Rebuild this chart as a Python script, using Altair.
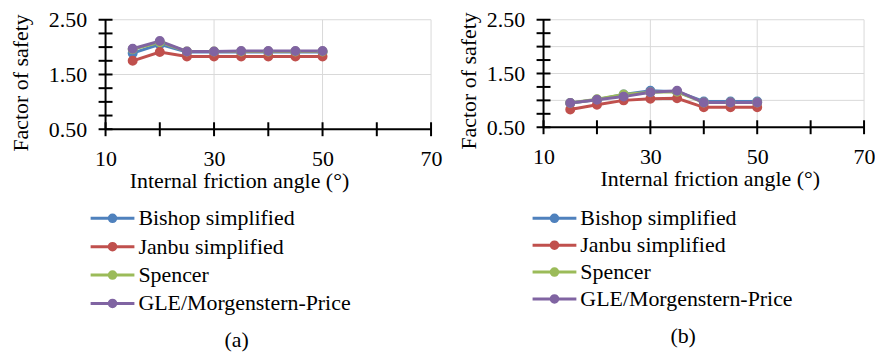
import altair as alt
import pandas as pd

angles = [15, 20, 25, 30, 35, 40, 45, 50]
methods = ["Bishop simplified", "Janbu simplified", "Spencer", "GLE/Morgenstern-Price"]
colors = ["#4F81BD", "#C0504D", "#9BBB59", "#8064A2"]

# panel (a)
a_bishop = [1.89, 2.05, 1.91, 1.91, 1.91, 1.91, 1.91, 1.91]
a_janbu = [1.75, 1.91, 1.83, 1.83, 1.83, 1.83, 1.83, 1.83]
a_spencer = [1.96, 2.09, 1.92, 1.92, 1.92, 1.92, 1.92, 1.92]
a_gle = [1.97, 2.11, 1.92, 1.92, 1.93, 1.93, 1.93, 1.93]

# panel (b)
b_bishop = [0.95, 1.01, 1.11, 1.18, 1.16, 0.98, 0.98, 0.98]
b_janbu = [0.83, 0.92, 1.00, 1.03, 1.04, 0.87, 0.87, 0.87]
b_spencer = [0.95, 1.02, 1.11, 1.15, 1.16, 0.96, 0.96, 0.96]
b_gle = [0.95, 1.01, 1.07, 1.15, 1.18, 0.96, 0.96, 0.96]

x_min, x_max = 10, 70
y_min, y_max = 0.5, 2.5
x_ticks = [10, 20, 30, 40, 50, 60, 70]
x_labels = [10, 30, 50, 70]
x_grid = [30, 50, 70]
y_ticks = [0.5, 0.75, 1.0, 1.25, 1.5, 1.75, 2.0, 2.25, 2.5]
a_y_labels = [0.5, 1.5, 2.5]
a_y_grid = [1.5, 2.5]
b_y_labels = [0.5, 1.0, 1.5, 2.0, 2.5]
b_y_grid = [1.0, 1.5, 2.0, 2.5]

FONT = "Liberation Serif"
FS = 22
GRID = "#d9d9d9"


def frame(series):
    rows = []
    for m, vals in zip(methods, series):
        for a, v in zip(angles, vals):
            rows.append({"angle": a, "fos": v, "method": m})
    return pd.DataFrame(rows)


SYMBOL = "M-2,0L2,0M-0.3,0A0.3,0.3 0 1,1 0.3,0A0.3,0.3 0 1,1 -0.3,0Z"


def panel(series, caption, w, h, y_labels, y_grid, ytitle_y, ytitle_pad, xtitle_x, leg_x, leg_row, cap_dx):
    df = frame(series)
    legend = alt.Legend(
        title=None, orient="none", legendX=leg_x, legendY=187,
        symbolType=SYMBOL, symbolSize=484, symbolStrokeWidth=3, symbolOpacity=1,
        labelFont=FONT, labelFontSize=FS, labelColor="black", labelOffset=13.5,
        rowPadding=leg_row, padding=0, labelLimit=400,
    )
    sc = alt.Scale(domain=methods, range=colors)
    xs = alt.Scale(domain=[x_min, x_max], nice=False)
    ys = alt.Scale(domain=[y_min, y_max], nice=False)
    xenc = alt.X(
        "angle:Q", scale=xs,
        axis=alt.Axis(
            values=x_labels, title="Internal friction angle (°)",
            grid=False, ticks=False, domain=False, labelFlush=False, labelOverlap=False,
            titleX=xtitle_x, labelPadding=19, titlePadding=2,
        ),
    )
    yenc = alt.Y(
        "fos:Q", scale=ys,
        axis=alt.Axis(
            values=y_labels, title="Factor of safety", format=".2f",
            grid=False, ticks=False, domain=False, labelFlush=False, labelOverlap=False,
            titleY=ytitle_y, labelPadding=19, titlePadding=ytitle_pad,
        ),
    )
    # vertical grid lines (filled thin rects)
    vgrid = alt.Chart(pd.DataFrame({"g": x_grid, "lo": [y_min] * len(x_grid), "hi": [y_max] * len(x_grid)})).mark_rect(
        color=GRID, xOffset=-0.5, x2Offset=0.5
    ).encode(x=alt.X("g:Q", scale=xs), x2="g:Q", y=alt.Y("lo:Q", scale=ys), y2="hi:Q")
    hgrid = alt.Chart(pd.DataFrame({"g": y_grid})).mark_rule(color=GRID, strokeWidth=1).encode(
        y=alt.Y("g:Q", scale=ys)
    )
    # axis lines
    xdomain = alt.Chart(pd.DataFrame({"d": [y_min]})).mark_rule(color="black", strokeWidth=2).encode(
        y=alt.Y("d:Q", scale=ys)
    )
    ydomain = alt.Chart(pd.DataFrame({"d": [x_min], "lo": [y_min], "hi": [y_max]})).mark_rect(
        color="black", xOffset=-1, x2Offset=1
    ).encode(x=alt.X("d:Q", scale=xs), x2="d:Q", y=alt.Y("lo:Q", scale=ys), y2="hi:Q")
    # tick marks crossing the axes
    xticks = alt.Chart(pd.DataFrame({"t": x_ticks, "b": [y_min] * len(x_ticks)})).mark_rect(
        color="black", xOffset=-1, x2Offset=1, yOffset=7, y2Offset=-7
    ).encode(x=alt.X("t:Q", scale=xs), x2="t:Q", y=alt.Y("b:Q", scale=ys), y2="b:Q")
    yticks = alt.Chart(pd.DataFrame({"t": y_ticks, "b": [x_min] * len(y_ticks)})).mark_rect(
        color="black", xOffset=-7, x2Offset=7, yOffset=-1, y2Offset=1
    ).encode(y=alt.Y("t:Q", scale=ys), y2="t:Q", x=alt.X("b:Q", scale=xs), x2="b:Q")
    lines = alt.Chart(df).mark_line(strokeWidth=3).encode(
        x=xenc, y=yenc,
        stroke=alt.Stroke("method:N", scale=sc, legend=legend),
        detail="method:N",
    )
    pts = alt.Chart(df).mark_point(filled=True, size=64, opacity=1, strokeWidth=2, shape="circle").encode(
        x=xenc, y=yenc,
        fill=alt.Fill("method:N", scale=sc, legend=legend),
        stroke=alt.Stroke("method:N", scale=sc, legend=legend),
    )
    return alt.layer(vgrid, hgrid, xdomain, ydomain, xticks, yticks, lines, pts).properties(
        width=w, height=h,
        title=alt.TitleParams(caption, orient="bottom", anchor="middle", frame="bounds",
                              offset=16, dx=cap_dx, font=FONT, fontSize=FS,
                              fontWeight="normal", color="black"),
    )


left = panel([a_bishop, a_janbu, a_spencer, a_gle], "(a)", 327, 110,
             a_y_labels, a_y_grid, 63, 16, 134, -5.5, 4.5, 11)
right = panel([b_bishop, b_janbu, b_spencer, b_gle], "(b)", 322, 108,
              b_y_labels, b_y_grid, 61, 6, 167, -1.5, 3, 17)

chart = alt.hconcat(left, right, spacing=15).resolve_scale(
    fill="independent", stroke="independent"
).resolve_legend(fill="independent", stroke="independent").properties(
    padding={"left": 1, "top": 0, "right": 0, "bottom": 0}
).configure_view(stroke=None).configure_axis(
    labelFont=FONT, titleFont=FONT, labelFontSize=FS, titleFontSize=FS,
    titleFontWeight="normal", labelColor="black", titleColor="black",
)

chart.save("out.html", embed_options={"renderer": "svg", "actions": False})
